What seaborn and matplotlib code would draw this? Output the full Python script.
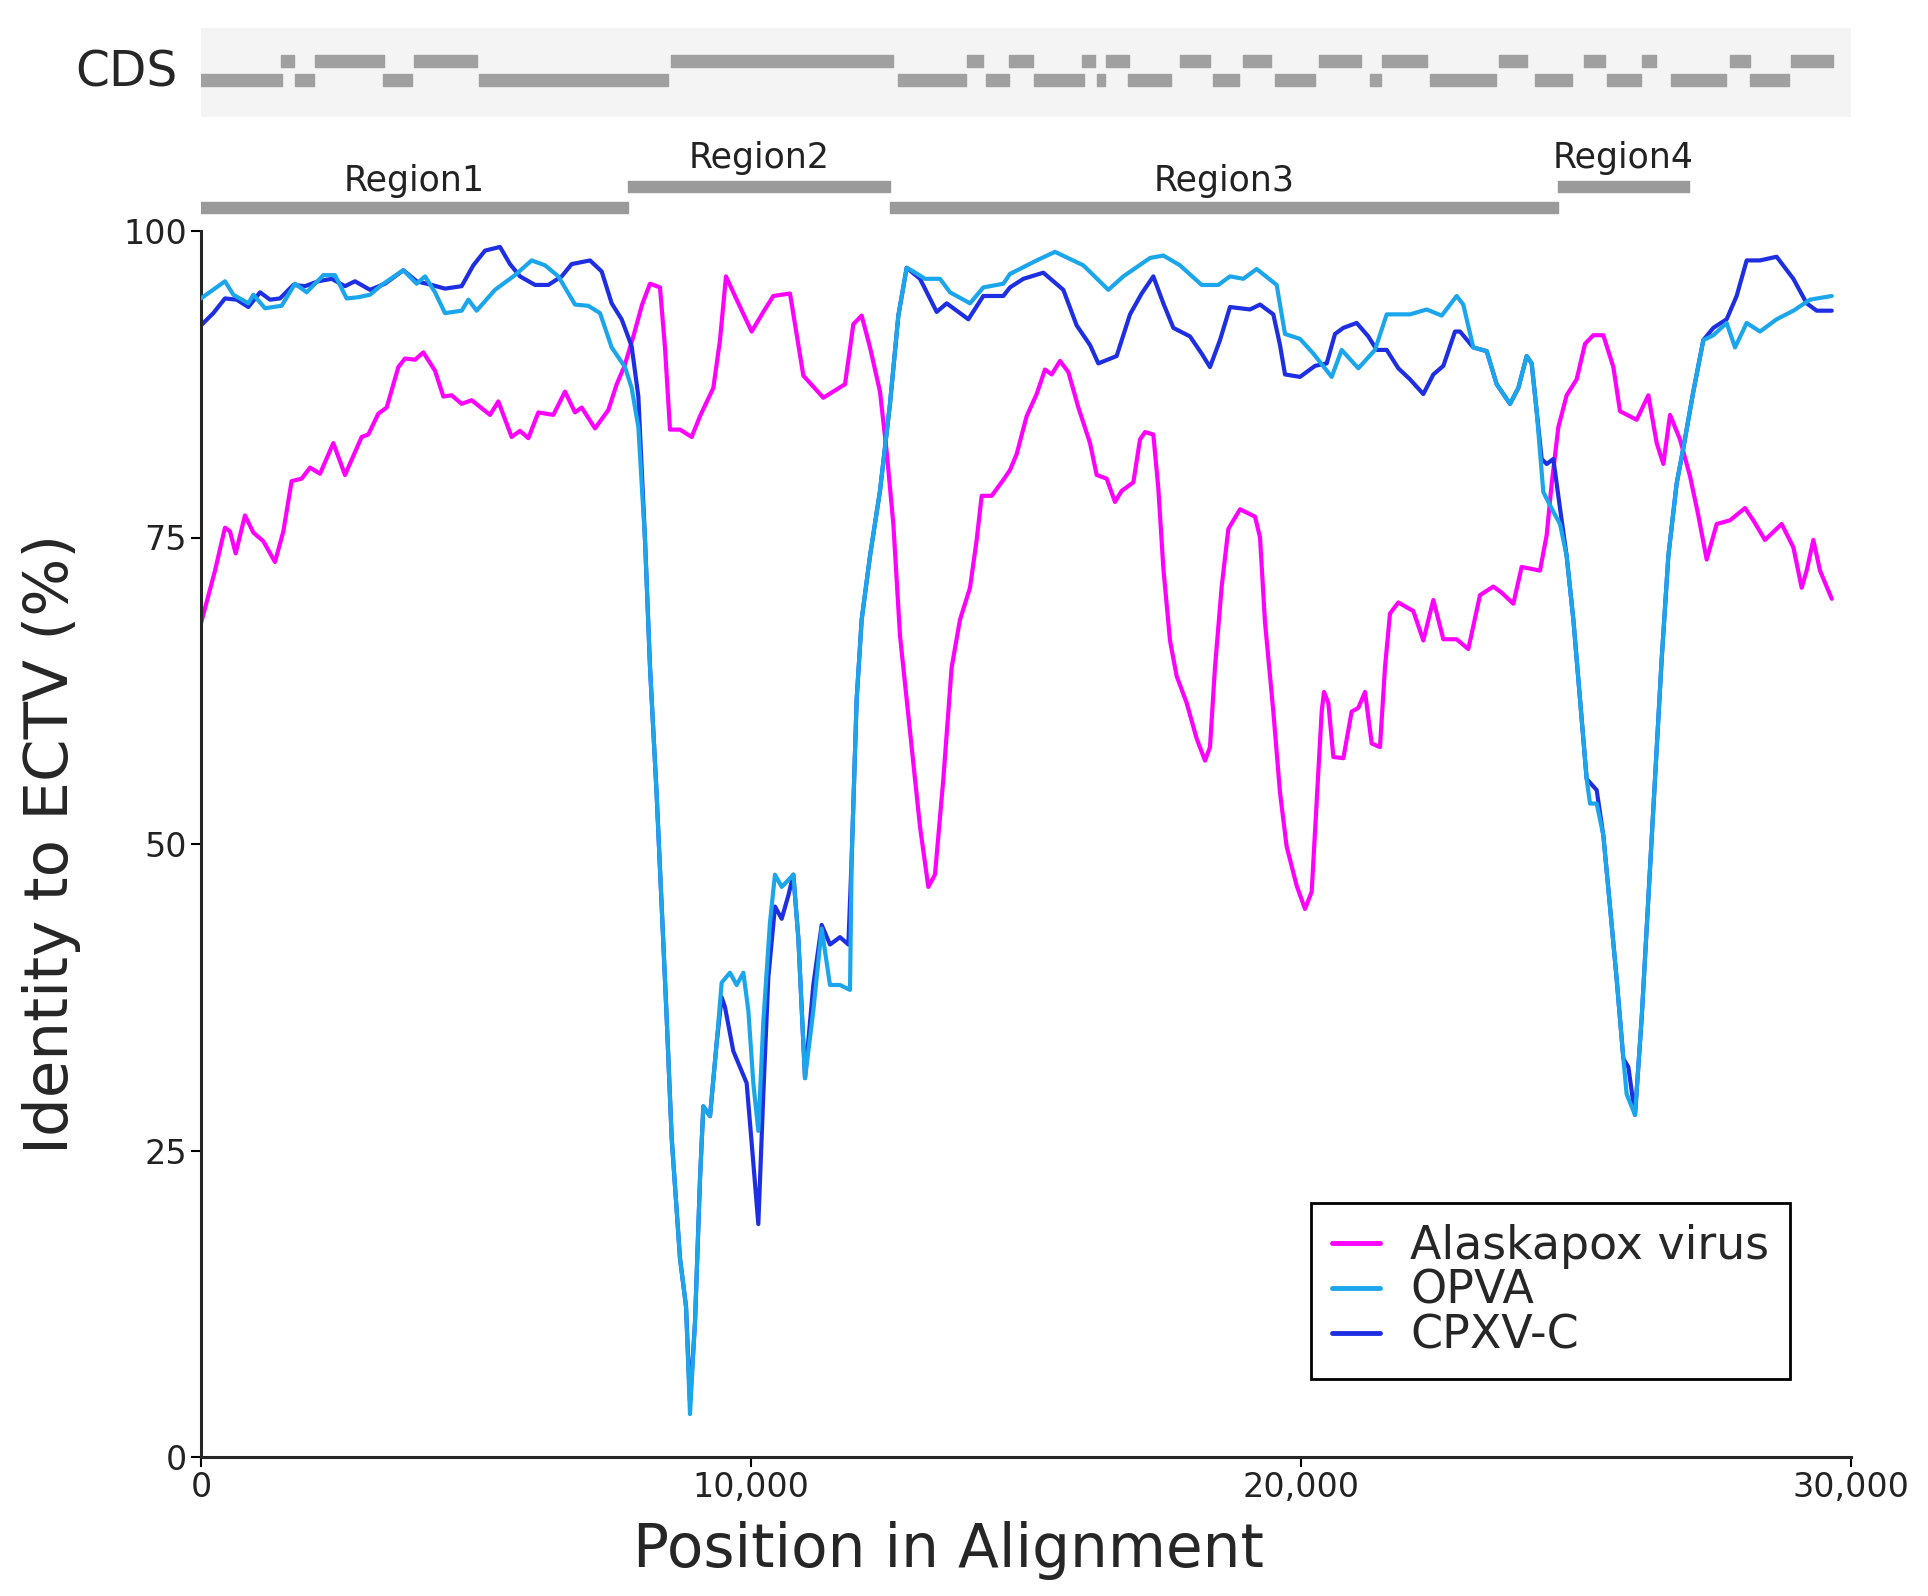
import matplotlib
matplotlib.use("Agg")
import matplotlib.pyplot as plt
import matplotlib.ticker as mticker
import numpy as np
import pandas as pd
import seaborn as sns

# ---- data ----
apx_x = [0, 255, 436, 527, 630, 800, 952, 1133, 1345, 1497, 1648, 1830, 1982, 2164, 2406, 2618,
         2921, 3042, 3224, 3376, 3588, 3709, 3891, 4042, 4255, 4406, 4558, 4739, 4921, 5255, 5406,
         5648, 5800, 5952, 6133, 6406, 6618, 6800, 6921, 7164, 7406, 7558, 7700, 7861, 8020, 8164,
         8345, 8436, 8527, 8709, 8921, 9073, 9315, 9436, 9545, 9739, 10012, 10224, 10406, 10709,
         10800, 10952, 11315, 11709, 11861, 12012, 12164, 12345, 12467, 12588, 12709, 12891, 13073,
         13224, 13345, 13497, 13648, 13800, 13982, 14103, 14194, 14376, 14588, 14709, 14830, 15012,
         15194, 15345, 15467, 15618, 15770, 15952, 16164, 16285, 16467, 16618, 16739, 16952, 17073,
         17164, 17315, 17406, 17497, 17618, 17739, 17921, 18103, 18255, 18345, 18436, 18558, 18679,
         18891, 19164, 19255, 19345, 19497, 19618, 19739, 19921, 20073, 20194, 20285, 20376, 20418,
         20497, 20588, 20770, 20921, 21042, 21164, 21285, 21436, 21527, 21618, 21770, 22042, 22224,
         22406, 22588, 22830, 23042, 23255, 23497, 23648, 23861, 24012, 24345, 24467, 24558, 24679,
         24830, 25012, 25164, 25315, 25497, 25679, 25800, 26103, 26315, 26467, 26588, 26709, 26891,
         27073, 27224, 27376, 27558, 27800, 28073, 28224, 28436, 28739, 28952, 29103, 29194, 29315,
         29436, 29650]
apx_y = [68.0, 72.3, 75.8, 75.5, 73.7, 76.8, 75.4, 74.7, 73.0, 75.5, 79.6, 79.8, 80.7, 80.2, 82.7,
         80.1, 83.2, 83.4, 85.1, 85.6, 88.9, 89.6, 89.5, 90.1, 88.6, 86.5, 86.6, 85.9, 86.2, 85.0,
         86.1, 83.2, 83.7, 83.1, 85.2, 85.0, 86.9, 85.2, 85.6, 83.9, 85.4, 87.5, 89.0, 91.4, 94.0,
         95.7, 95.4, 90.5, 83.8, 83.8, 83.2, 84.9, 87.2, 91.1, 96.3, 94.4, 91.8, 93.4, 94.7, 94.9,
         92.4, 88.2, 86.4, 87.5, 92.4, 93.1, 90.5, 86.9, 82.0, 76.1, 67.0, 59.2, 51.4, 46.5, 47.5,
         55.3, 64.4, 68.3, 70.9, 74.8, 78.4, 78.4, 79.7, 80.5, 81.8, 84.9, 86.7, 88.7, 88.3, 89.4,
         88.5, 85.6, 82.7, 80.1, 79.8, 77.9, 78.8, 79.5, 83.0, 83.6, 83.4, 79.0, 72.5, 66.6, 63.7,
         61.5, 58.6, 56.8, 57.9, 64.4, 71.0, 75.7, 77.3, 76.7, 75.0, 68.1, 60.8, 54.2, 49.8, 46.6,
         44.7, 46.1, 53.5, 60.8, 62.4, 61.5, 57.1, 57.0, 60.8, 61.1, 62.4, 58.2, 57.9, 64.4, 68.8,
         69.7, 69.0, 66.6, 69.9, 66.7, 66.7, 65.9, 70.3, 71.0, 70.5, 69.6, 72.6, 72.3, 75.2, 79.4,
         84.0, 86.6, 87.9, 90.8, 91.5, 91.5, 88.9, 85.3, 84.6, 86.6, 82.7, 81.0, 85.0, 83.0, 80.0,
         76.8, 73.2, 76.1, 76.4, 77.4, 76.4, 74.8, 76.1, 74.2, 70.9, 72.3, 74.8, 72.3, 70.0]

opva_x = [0, 436, 588, 861, 952, 1164, 1467, 1709, 1921, 2224, 2436, 2648, 2861, 3073, 3285, 3679,
          3921, 4073, 4255, 4436, 4739, 4861, 5012, 5345, 5709, 6012, 6255, 6497, 6800, 7042, 7255,
          7467, 7709, 7830, 7952, 8073, 8164, 8285, 8376, 8467, 8558, 8709, 8818, 8891, 8982, 9073,
          9133, 9255, 9376, 9467, 9618, 9739, 9861, 9952, 10042, 10133, 10224, 10345, 10436, 10558,
          10770, 10861, 10982, 11133, 11285, 11436, 11618, 11800, 11830, 11921, 12012, 12164, 12345,
          12527, 12679, 12830, 12952, 13164, 13436, 13618, 13982, 14224, 14588, 14709, 15194, 15527,
          16042, 16497, 16770, 17255, 17497, 17800, 18194, 18497, 18709, 18951, 19194, 19558, 19709,
          19982, 20224, 20558, 20739, 21042, 21345, 21558, 21982, 22285, 22558, 22830, 22950, 23133,
          23376, 23558, 23800, 23952, 24103, 24194, 24285, 24406, 24588, 24709, 24830, 24952, 25073,
          25194, 25255, 25376, 25497, 25618, 25739, 25861, 25921, 26073, 26194, 26315, 26436, 26558,
          26679, 26830, 26952, 27133, 27315, 27497, 27739, 27891, 28103, 28345, 28648, 28952, 29255,
          29650]
opva_y = [94.5, 95.9, 94.8, 94.1, 94.8, 93.7, 93.9, 95.7, 95.0, 96.4, 96.4, 94.5, 94.6, 94.8, 95.6,
          96.8, 95.7, 96.3, 95.0, 93.3, 93.5, 94.4, 93.5, 95.2, 96.4, 97.6, 97.2, 96.3, 94.0, 93.9,
          93.3, 90.5, 88.9, 87.2, 84.0, 74.8, 64.4, 54.0, 44.9, 35.8, 26.0, 16.2, 12.3, 3.5, 11.0,
          22.7, 28.6, 27.8, 33.8, 38.7, 39.5, 38.5, 39.5, 36.4, 30.5, 26.6, 35.5, 43.6, 47.5, 46.5,
          47.5, 42.3, 30.9, 36.4, 43.1, 38.5, 38.5, 38.1, 48.8, 61.8, 68.3, 73.5, 78.8, 85.9, 93.1,
          97.0, 96.7, 96.1, 96.1, 95.0, 94.1, 95.4, 95.7, 96.5, 97.6, 98.3, 97.2, 95.2, 96.3, 97.8,
          98.0, 97.2, 95.6, 95.6, 96.3, 96.1, 96.9, 95.6, 91.6, 91.2, 90.0, 88.1, 90.3, 88.8, 90.3,
          93.2, 93.2, 93.6, 93.1, 94.7, 94.0, 90.5, 90.2, 87.5, 85.9, 87.2, 89.8, 89.2, 85.3, 78.7,
          77.1, 76.1, 73.5, 68.3, 61.8, 55.3, 53.3, 53.3, 50.7, 44.9, 39.0, 32.5, 29.6, 27.9, 35.8,
          45.5, 55.3, 65.1, 73.5, 79.4, 82.3, 86.9, 91.1, 91.5, 92.5, 90.5, 92.5, 91.8, 92.8, 93.5,
          94.4, 94.7]

cpxv_x = [0, 224, 436, 648, 861, 1073, 1255, 1436, 1679, 1891, 2133, 2376, 2618, 2800, 3073, 3345,
          3679, 3921, 4194, 4436, 4739, 4951, 5164, 5436, 5618, 5800, 6073, 6315, 6558, 6739, 7073,
          7285, 7467, 7648, 7830, 7952, 8073, 8164, 8285, 8376, 8467, 8558, 8709, 8818, 8891, 8982,
          9073, 9133, 9255, 9376, 9467, 9527, 9679, 9800, 9921, 10042, 10133, 10224, 10315, 10436,
          10558, 10679, 10770, 10861, 10982, 11133, 11285, 11436, 11618, 11770, 11830, 11921, 12012,
          12164, 12345, 12527, 12679, 12830, 13073, 13376, 13558, 13952, 14224, 14588, 14709, 14952,
          15315, 15679, 15921, 16164, 16315, 16648, 16891, 17103, 17315, 17497, 17679, 17982, 18194,
          18345, 18527, 18709, 19073, 19255, 19497, 19618, 19709, 19982, 20255, 20467, 20618, 20770,
          21012, 21224, 21376, 21558, 21770, 21982, 22224, 22406, 22588, 22800, 22891, 23133, 23376,
          23558, 23800, 23952, 24103, 24194, 24285, 24376, 24467, 24588, 24709, 24830, 24952, 25073,
          25194, 25255, 25376, 25497, 25618, 25739, 25861, 25952, 26073, 26194, 26315, 26436, 26558,
          26679, 26830, 26952, 27133, 27315, 27497, 27739, 27921, 28103, 28345, 28648, 28952, 29194,
          29376, 29650]
cpxv_y = [92.3, 93.3, 94.5, 94.4, 93.8, 95.0, 94.4, 94.5, 95.6, 95.5, 95.9, 96.1, 95.5, 95.9, 95.2,
          95.7, 96.8, 95.9, 95.6, 95.3, 95.5, 97.2, 98.4, 98.7, 97.3, 96.3, 95.6, 95.6, 96.3, 97.3,
          97.6, 96.7, 94.1, 92.8, 90.6, 86.5, 74.8, 64.4, 54.0, 44.9, 35.8, 26.0, 16.2, 12.3, 4.5,
          11.0, 22.7, 28.6, 27.8, 33.8, 37.5, 36.7, 33.1, 31.8, 30.5, 24.0, 19.0, 29.6, 39.1, 44.9,
          43.9, 45.8, 47.5, 42.3, 30.9, 38.5, 43.4, 41.8, 42.4, 41.8, 48.8, 61.8, 68.3, 73.5, 78.8,
          85.9, 93.1, 97.0, 96.1, 93.4, 94.1, 92.8, 94.7, 94.7, 95.4, 96.1, 96.6, 95.2, 92.3, 90.7,
          89.2, 89.8, 93.2, 94.9, 96.3, 94.1, 92.1, 91.4, 90.0, 88.9, 91.1, 93.8, 93.6, 94.0, 93.2,
          90.7, 88.3, 88.1, 89.0, 89.2, 91.6, 92.1, 92.5, 91.4, 90.3, 90.3, 88.8, 87.9, 86.7, 88.3,
          89.0, 91.8, 91.8, 90.5, 90.2, 87.5, 85.9, 87.2, 89.8, 89.2, 85.3, 81.4, 81.0, 81.4, 77.4,
          73.5, 68.3, 61.8, 55.3, 55.0, 54.4, 50.7, 44.9, 39.0, 32.5, 31.8, 27.9, 35.8, 45.5, 55.3,
          65.1, 73.5, 79.4, 82.3, 86.9, 91.1, 92.1, 92.8, 94.7, 97.6, 97.6, 97.9, 96.1, 94.1, 93.5,
          93.5]

virus_names = ["Alaskapox virus", "OPVA", "CPXV-C"]
virus_colors = ["#ff00ff", "#1ba6ec", "#1e2ee2"]

# coding sequences (start, end) on the two strands
cds_top = [(1460, 1690), (2080, 3330), (3870, 5010), (8540, 12580), (13920, 14220), (14700, 15120),
           (16020, 16250), (16460, 16880), (17800, 18340), (18940, 19460), (20320, 21100),
           (21480, 22290), (23600, 24110), (25150, 25530), (26200, 26450), (27800, 28160),
           (28910, 29680)]
cds_bottom = [(0, 1480), (1710, 2050), (3300, 3840), (5060, 8490), (12670, 13910), (14270, 14690),
              (15140, 16050), (16290, 16430), (16850, 17640), (18400, 18880), (19520, 20260),
              (21250, 21460), (22340, 23550), (24250, 24930), (25570, 26180), (26720, 27730),
              (28170, 28880)]

region_names = ["Region1", "Region2", "Region3", "Region4"]
region_start = [0, 7760, 12520, 24680]
region_end = [7760, 12520, 24680, 27050]

df = pd.concat([
    pd.DataFrame({"position": apx_x, "identity": apx_y, "virus": virus_names[0]}),
    pd.DataFrame({"position": opva_x, "identity": opva_y, "virus": virus_names[1]}),
    pd.DataFrame({"position": cpxv_x, "identity": cpxv_y, "virus": virus_names[2]}),
], ignore_index=True)

sns.set_style("ticks")
plt.rcParams["font.family"] = ["DejaVu Sans"]

fig = plt.figure(figsize=(19.28, 15.96), dpi=100)
left, width = 201 / 1928, 1650 / 1928
ax = fig.add_axes([left, 139 / 1596, width, 1226 / 1596])
ax_cds = fig.add_axes([left, 1479 / 1596, width, 89 / 1596])
ax_reg = fig.add_axes([left, 1376 / 1596, width, 80 / 1596])

# ---- main identity plot ----
sns.lineplot(data=df, x="position", y="identity", hue="virus", hue_order=virus_names,
             palette=virus_colors, estimator=None, sort=False, lw=3.0, ax=ax)
ax.lines[1].set_zorder(4)
handles, labels = ax.get_legend_handles_labels()
ax.get_legend().remove()
leg = ax.legend(handles, labels, loc="upper left", bbox_to_anchor=(0.673, 0.207), borderaxespad=0,
                fontsize=33, frameon=True, fancybox=False, edgecolor="black", framealpha=1,
                handlelength=1.05, handletextpad=0.65, labelspacing=0.0, borderpad=0.45)
leg.get_frame().set_linewidth(2.0)
for h in leg.get_lines():
    h.set_linewidth(3.5)

ax.set_xlim(0, 30000)
ax.set_ylim(0, 100)
ax.set_xticks([0, 10000, 20000, 30000])
ax.set_yticks([0, 25, 50, 75, 100])
ax.xaxis.set_major_formatter(mticker.StrMethodFormatter("{x:,.0f}"))
ax.tick_params(length=7, width=1.5, labelsize=24, pad=3, colors="black", labelcolor="#222222")
for side in ["top", "right"]:
    ax.spines[side].set_visible(False)
for side in ["left", "bottom"]:
    ax.spines[side].set_linewidth(2.2)
ax.set_xlabel("Position in Alignment", fontsize=43)
ax.set_ylabel("Identity to ECTV (%)", fontsize=44)
ax.xaxis.set_label_coords(0.453, -0.052)
ax.yaxis.set_label_coords(-0.073, 0.5)

# ---- CDS track ----
ax_cds.set_facecolor("#f4f4f4")
ax_cds.broken_barh([(s, e - s) for s, e in cds_top], (55, 12), color="#a0a0a0")
ax_cds.broken_barh([(s, e - s) for s, e in cds_bottom], (74, 12), color="#a0a0a0")
ax_cds.set_xlim(0, 30000)
ax_cds.set_ylim(117, 28)
ax_cds.set_xticks([])
ax_cds.set_yticks([])
for s in ax_cds.spines.values():
    s.set_visible(False)
ax_cds.text(-0.014, 0.5, "CDS", transform=ax_cds.transAxes, ha="right", va="center", fontsize=35)

# ---- region track ----
for i, (name, s, e) in enumerate(zip(region_names, region_start, region_end)):
    y_bar = 202 if i % 2 == 0 else 181
    y_txt = 181 if i % 2 == 0 else 158
    ax_reg.broken_barh([(s, e - s)], (y_bar, 11), color="#9a9a9a")
    ax_reg.text((s + e) / 2, y_txt, name, ha="center", va="center", fontsize=25, color="#222222")
ax_reg.set_xlim(0, 30000)
ax_reg.set_ylim(220, 140)
ax_reg.axis("off")

fig.savefig("out.png", dpi=100)
